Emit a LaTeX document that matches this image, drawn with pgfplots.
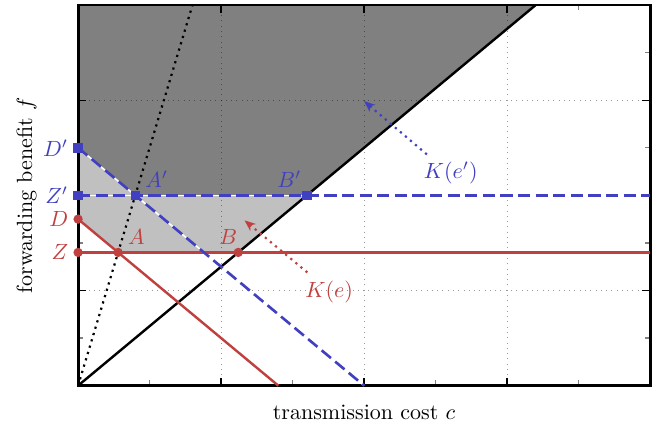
\documentclass[border=0pt]{standalone}
\usepackage{pgfplots}
\pgfplotsset{compat=1.18}
\usetikzlibrary{arrows.meta}
\definecolor{myred}{RGB}{192,64,64}
\definecolor{myblue}{RGB}{64,64,192}
\definecolor{darkfill}{RGB}{128,128,128}
\definecolor{lightfill}{RGB}{192,192,192}
\begin{document}
\begin{tikzpicture}
\begin{axis}[
  set layers,
  scale only axis,
  width=260pt, height=173pt,
  xmin=0, xmax=4, ymin=0, ymax=4,
  xtick={0,1,2,3,4}, ytick={0,1,2,3,4},
  minor x tick num=1, minor y tick num=1,
  xticklabels={}, yticklabels={},
  tick align=inside,
  major tick style={black, line width=0.6pt},
  minor tick style={gray, line width=0.6pt},
  major tick length=3.6pt, minor tick length=2.4pt,
  grid=major,
  major grid style={black, opacity=0.4, dotted, line width=0.5pt},
  axis line style={line width=1.3pt},
  clip=false,
  xlabel={transmission cost $c$},
  ylabel={forwarding benefit $f$},
  xlabel style={at={(axis description cs:0.5,-0.05)}, anchor=north, inner sep=0pt},
  ylabel style={at={(axis description cs:-0.0717,0.5)}, anchor=south, inner sep=0pt},
]
% regions
\addplot[on layer=axis background, draw=none, fill=darkfill] coordinates {(0,2.5) (0.4,2) (1.6,2) (3.2,4) (0,4)} -- cycle;
\addplot[on layer=axis background, draw=none, fill=lightfill] coordinates {(0,1.75) (0.28,1.4) (1.12,1.4) (1.6,2) (0.4,2) (0,2.5)} -- cycle;
% lines
\addplot[black, line width=1pt, dotted] coordinates {(0,0) (0.8,4)};
\addplot[black, line width=1.1pt] coordinates {(0,0) (3.2,4)};
\addplot[myred, line width=1.1pt] coordinates {(0,1.4) (4,1.4)};
\addplot[myred, line width=1.1pt] coordinates {(0,1.75) (1.4,0)};
\addplot[white, line width=0.7pt] coordinates {(0,2) (4,2)};
\addplot[white, line width=0.7pt] coordinates {(0,2.5) (2,0)};
\addplot[myblue, line width=1.2pt, dash pattern=on 5.5pt off 2.5pt] coordinates {(0,2) (4,2)};
\addplot[myblue, line width=1.2pt, dash pattern=on 5.5pt off 2.5pt] coordinates {(0,2.5) (2,0)};
% arrows
\addplot[myred, line width=1pt, dotted, -{Stealth[length=5pt,width=4pt,inset=1.5pt]}] coordinates {(1.603,1.19) (1.164,1.737)};
\addplot[myblue, line width=1pt, dotted, -{Stealth[length=5pt,width=4pt,inset=1.5pt]}] coordinates {(2.439,2.43) (2.0,2.99)};
% markers
\addplot[on layer=axis foreground, only marks, mark=*, mark size=1.9pt, myred] coordinates {(0,1.75) (0,1.4) (0.28,1.4) (1.12,1.4)};
\addplot[on layer=axis foreground, only marks, mark=square*, mark size=1.9pt, myblue] coordinates {(0,2.5) (0,2) (0.4,2) (1.6,2)};
% labels
\node[myblue, anchor=east, xshift=-1pt] at (axis cs:0,2.5) {$D'$};
\node[myblue, anchor=east, xshift=-1pt] at (axis cs:0,2) {$Z'$};
\node[myred, anchor=east, xshift=-1pt] at (axis cs:0,1.75) {$D$};
\node[myred, anchor=east, xshift=-1pt] at (axis cs:0,1.4) {$Z$};
\node[myblue, anchor=south west, xshift=1pt] at (axis cs:0.4,2) {$A'$};
\node[myblue, anchor=south east, xshift=1pt] at (axis cs:1.6,2) {$B'$};
\node[myred, anchor=south west, xshift=1pt] at (axis cs:0.28,1.4) {$A$};
\node[myred, anchor=south east, xshift=3pt] at (axis cs:1.12,1.4) {$B$};
\node[myred] at (axis cs:1.756,0.98) {$K(e)$};
\node[myblue] at (axis cs:2.606,2.24) {$K(e')$};
\coordinate (bl) at (rel axis cs:0,0);
\coordinate (tr) at (rel axis cs:1,1);
\end{axis}
\pgfresetboundingbox
\path ([shift={(-35.5pt,-21pt)}]bl) rectangle ([shift={(2.7pt,2.3pt)}]tr);
\end{tikzpicture}
\end{document}
